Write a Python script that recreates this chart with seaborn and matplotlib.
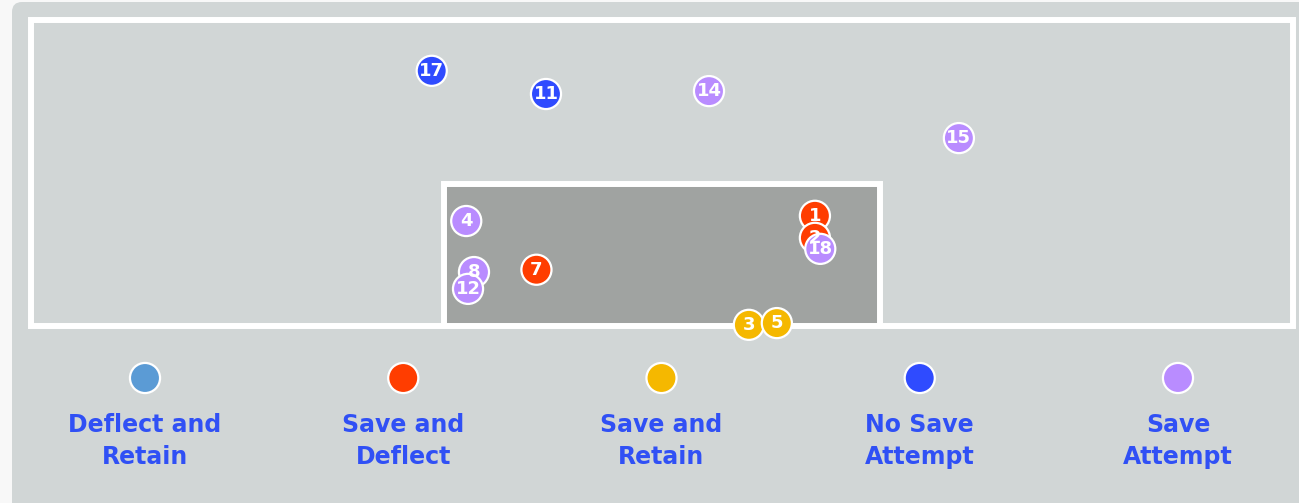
import pandas as pd
import seaborn as sns
import matplotlib.pyplot as plt
from matplotlib.patches import Rectangle, FancyBboxPatch
from matplotlib.transforms import IdentityTransform

# shots on goal: number, outcome, where it crossed the goal line (metres from goal centre / ground)
shot_no = [1, 2, 3, 4, 5, 7, 8, 11, 12, 14, 15, 17, 18]
outcome = ["Save and Deflect", "Save and Deflect", "Save and Retain", "Save Attempt",
           "Save and Retain", "Save and Deflect", "Save Attempt", "No Save Attempt",
           "Save Attempt", "Save Attempt", "Save Attempt", "No Save Attempt", "Save Attempt"]
shot_x = [2.57, 2.57, 1.46, -3.29, 1.93, -2.11, -3.16, -1.95, -3.26, 0.79, 4.99, -3.87, 2.66]
shot_y = [1.90, 1.52, 0.02, 1.81, 0.05, 0.97, 0.93, 4.00, 0.64, 4.05, 3.24, 4.40, 1.33]

categories = ["Deflect and Retain", "Save and Deflect", "Save and Retain",
              "No Save Attempt", "Save Attempt"]
legend_labels = ["Deflect and\nRetain", "Save and\nDeflect", "Save and\nRetain",
                 "No Save\nAttempt", "Save\nAttempt"]
colors = ["#5b9bd5", "#ff3d00", "#f5b800", "#2f4bff", "#b98cff"]

df = pd.DataFrame({"shot": shot_no, "outcome": outcome, "x": shot_x, "y": shot_y})
df = df.sort_values("shot")
palette = dict(zip(categories, colors))

fig = plt.figure(figsize=(12.99, 5.03), dpi=100)
fig.patch.set_facecolor("#f8f8f8")

# grey card behind everything (pixel coords)
card = FancyBboxPatch((12, -30), 1320, 531, boxstyle="round,pad=0,rounding_size=10",
                      transform=IdentityTransform(), fc="#d1d6d6", ec="none", zorder=-10)
fig.patches.append(card)

ax = fig.add_axes([0, 0, 1, 1])
ax.set_facecolor("none")
ax.set_xlim(-11.126, 10.706)
ax.set_ylim(-3.052, 5.621)
ax.axis("off")

# frame and goal
ax.add_patch(Rectangle((-10.6, 0), 21.2, 5.28, fill=False, ec="white", lw=4.3, zorder=1))
ax.add_patch(Rectangle((-3.66, 0), 7.32, 2.44, fc="#a0a3a1", ec="white", lw=4.3, zorder=1))

sns.scatterplot(data=df, x="x", y="y", hue="outcome", palette=palette, s=470,
                edgecolor="white", linewidth=1.6, legend=False, ax=ax, zorder=3)
for _, r in df.iterrows():
    ax.text(r["x"], r["y"], str(r["shot"]), color="white", fontsize=13,
            fontweight="bold", ha="center", va="center", zorder=4)

# legend row
lax = fig.add_axes([0, 0, 1, 1])
lax.set_facecolor("none")
lax.set_xlim(-0.5615, 4.4686)
lax.set_ylim(503, 0)
lax.axis("off")
leg = pd.DataFrame({"pos": range(len(categories)), "cat": categories})
sns.scatterplot(data=leg, x="pos", y=[378] * len(categories), hue="cat", palette=palette,
                s=470, edgecolor="white", linewidth=1.6, legend=False, ax=lax)
for i, lab in enumerate(legend_labels):
    lax.text(i, 441, lab, color="#3050f5", fontsize=17, fontweight="bold",
             ha="center", va="center", linespacing=1.45)

fig.savefig("out.png", dpi=100, facecolor=fig.get_facecolor())
